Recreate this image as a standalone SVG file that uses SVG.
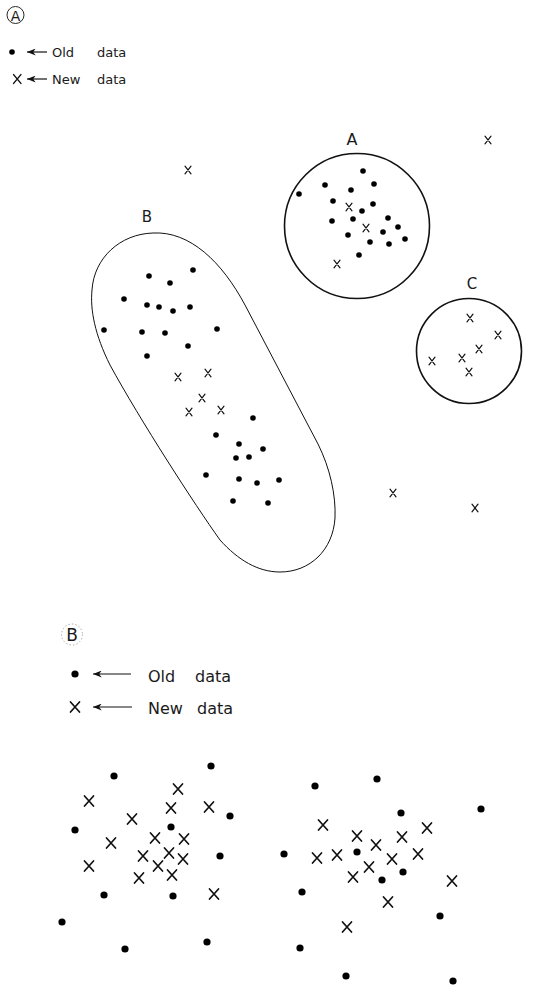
<svg xmlns="http://www.w3.org/2000/svg" xmlns:xlink="http://www.w3.org/1999/xlink" width="555" height="989" viewBox="0 0 555 989">
<style>
.t{font-family:"DejaVu Sans","Liberation Sans",sans-serif;fill:#1a1a1a}
.s{fill:none;stroke:#111}
.xs{fill:none;stroke:#111;stroke-width:1.2;stroke-linecap:round}
.xb{fill:none;stroke:#111;stroke-width:1.7;stroke-linecap:round}
.arr{fill:none;stroke:#111;stroke-width:1.2}
</style>
<defs>
<circle id="d" r="2.8" fill="#000"/>
<circle id="D" r="3.6" fill="#000"/>
<path id="x" class="xs" d="M-3,-3.8 L3,3.8 M3,-3.8 L-3,3.8"/>
<path id="X" class="xb" d="M-4.5,-5 L4.5,5 M4.5,-5 L-4.5,5"/>
<marker id="ah" viewBox="0 0 10 8" refX="0" refY="4" markerWidth="9" markerHeight="7" markerUnits="userSpaceOnUse" orient="auto">
<path d="M0,4 L10,0 L7,4 L10,8 Z" fill="#111"/>
</marker>
</defs>
<rect width="555" height="989" fill="#fff"/>

<g id="panelA-legend">
<circle cx="15.5" cy="15" r="8.5" class="s" stroke-width="0.9"/>
<text class="t" x="15.5" y="20.5" font-size="14" text-anchor="middle">A</text>
<use href="#d" x="12" y="52"/>
<line x1="27" y1="52" x2="47" y2="52" class="arr" marker-start="url(#ah)"/>
<text class="t" y="57" font-size="13"><tspan x="52">Old</tspan><tspan x="97">data</tspan></text>
<path class="xs" d="M13.5,74.5 L21,83.5 M21,74.5 L13.5,83.5"/>
<line x1="27" y1="79" x2="47" y2="79" class="arr" marker-start="url(#ah)"/>
<text class="t" y="84" font-size="13"><tspan x="52">New</tspan><tspan x="97">data</tspan></text>
</g>

<g id="connectors"></g>

<g id="clusterA">
<circle cx="357" cy="226" r="72.5" class="s" stroke-width="1.6"/>
<text class="t" x="352" y="145" font-size="16" text-anchor="middle">A</text>
<use href="#d" x="363" y="171"/><use href="#d" x="325" y="185"/><use href="#d" x="374" y="184"/>
<use href="#d" x="299" y="194"/><use href="#d" x="351" y="190"/><use href="#d" x="333" y="201"/>
<use href="#d" x="373" y="204"/><use href="#d" x="362" y="211"/><use href="#d" x="332" y="221"/>
<use href="#d" x="353" y="219"/><use href="#d" x="388" y="218"/><use href="#d" x="398" y="227"/>
<use href="#d" x="383" y="232"/><use href="#d" x="348" y="235"/><use href="#d" x="405" y="239"/>
<use href="#d" x="370" y="242"/><use href="#d" x="389" y="244"/><use href="#d" x="359" y="255"/>
<use href="#x" x="349" y="207"/><use href="#x" x="366" y="228"/><use href="#x" x="337" y="264"/>
</g>

<g id="clusterC">
<circle cx="469" cy="351" r="52.5" class="s" stroke-width="1.6"/>
<text class="t" x="472" y="289" font-size="15" text-anchor="middle">C</text>
<use href="#x" x="470" y="318"/><use href="#x" x="498" y="335"/><use href="#x" x="479" y="349"/>
<use href="#x" x="432" y="361"/><use href="#x" x="462" y="358"/><use href="#x" x="469" y="372"/>
</g>

<g id="clusterB">
<path class="s" stroke-width="1" d="M153,233 C190,231 222,262 245,305 L318,444 C330,468 336,495 335,518 C333,550 310,572 280,572 C258,572 238,560 220,540 C195,505 140,420 110,365 C95,335 90,310 92,290 C94,258 120,234 153,233 Z"/>
<text class="t" x="147" y="222" font-size="15" text-anchor="middle">B</text>
<use href="#d" x="193" y="270"/><use href="#d" x="149" y="276"/><use href="#d" x="170" y="283"/>
<use href="#d" x="124" y="299"/><use href="#d" x="147" y="305"/><use href="#d" x="159" y="307"/>
<use href="#d" x="173" y="311"/><use href="#d" x="190" y="307"/><use href="#d" x="104" y="330"/>
<use href="#d" x="142" y="332"/><use href="#d" x="165" y="333"/><use href="#d" x="217" y="329"/>
<use href="#d" x="188" y="346"/><use href="#d" x="147" y="356"/>
<use href="#x" x="178" y="377"/><use href="#x" x="208" y="373"/><use href="#x" x="202" y="398"/>
<use href="#x" x="189" y="412"/><use href="#x" x="221" y="410"/>
<use href="#d" x="253" y="418"/><use href="#d" x="216" y="435"/><use href="#d" x="239" y="444"/>
<use href="#d" x="263" y="449"/><use href="#d" x="236" y="458"/><use href="#d" x="249" y="457"/>
<use href="#d" x="206" y="475"/><use href="#d" x="239" y="479"/><use href="#d" x="257" y="483"/>
<use href="#d" x="279" y="480"/><use href="#d" x="233" y="501"/><use href="#d" x="268" y="503"/>
</g>

<g id="outliersA">
<use href="#x" x="188" y="170"/><use href="#x" x="488" y="140"/>
<use href="#x" x="393" y="493"/><use href="#x" x="475" y="508"/>
</g>

<g id="panelB-legend">
<circle cx="72" cy="634.5" r="10.5" fill="none" stroke="#999" stroke-width="0.8" stroke-dasharray="1.5 2"/>
<text class="t" x="72" y="641" font-size="17" text-anchor="middle">B</text>
<use href="#D" x="75" y="674"/>
<line x1="93" y1="674" x2="131" y2="674" class="arr" marker-start="url(#ah)"/>
<text class="t" y="682" font-size="16"><tspan x="148">Old</tspan><tspan x="195">data</tspan></text>
<use href="#X" x="75" y="707"/>
<line x1="93" y1="707" x2="132" y2="707" class="arr" marker-start="url(#ah)"/>
<text class="t" y="714" font-size="16"><tspan x="148">New</tspan><tspan x="197">data</tspan></text>
</g>

<g id="scatterB-left">
<use href="#D" x="211" y="766"/><use href="#D" x="114" y="776"/><use href="#D" x="230" y="816"/>
<use href="#D" x="75" y="830"/><use href="#D" x="171" y="827"/><use href="#D" x="220" y="856"/>
<use href="#D" x="104" y="895"/><use href="#D" x="173" y="896"/><use href="#D" x="62" y="922"/>
<use href="#D" x="207" y="942"/><use href="#D" x="125" y="949"/>
<use href="#X" x="178" y="789"/><use href="#X" x="89" y="801"/><use href="#X" x="171" y="808"/>
<use href="#X" x="209" y="807"/><use href="#X" x="132" y="819"/><use href="#X" x="111" y="843"/>
<use href="#X" x="155" y="838"/><use href="#X" x="184" y="839"/><use href="#X" x="169" y="853"/>
<use href="#X" x="143" y="856"/><use href="#X" x="183" y="859"/><use href="#X" x="89" y="866"/>
<use href="#X" x="158" y="866"/><use href="#X" x="172" y="875"/><use href="#X" x="139" y="878"/>
<use href="#X" x="214" y="894"/>
</g>

<g id="scatterB-right">
<use href="#D" x="377" y="779"/><use href="#D" x="315" y="786"/><use href="#D" x="481" y="809"/>
<use href="#D" x="401" y="813"/><use href="#D" x="284" y="854"/><use href="#D" x="357" y="852"/>
<use href="#D" x="403" y="872"/><use href="#D" x="382" y="880"/><use href="#D" x="302" y="892"/>
<use href="#D" x="440" y="916"/><use href="#D" x="300" y="948"/><use href="#D" x="346" y="976"/>
<use href="#D" x="453" y="981"/>
<use href="#X" x="323" y="825"/><use href="#X" x="427" y="828"/><use href="#X" x="357" y="836"/>
<use href="#X" x="402" y="837"/><use href="#X" x="376" y="845"/><use href="#X" x="317" y="858"/>
<use href="#X" x="337" y="855"/><use href="#X" x="418" y="854"/><use href="#X" x="392" y="859"/>
<use href="#X" x="369" y="867"/><use href="#X" x="353" y="877"/><use href="#X" x="452" y="881"/>
<use href="#X" x="388" y="902"/><use href="#X" x="347" y="927"/>
</g>
</svg>
